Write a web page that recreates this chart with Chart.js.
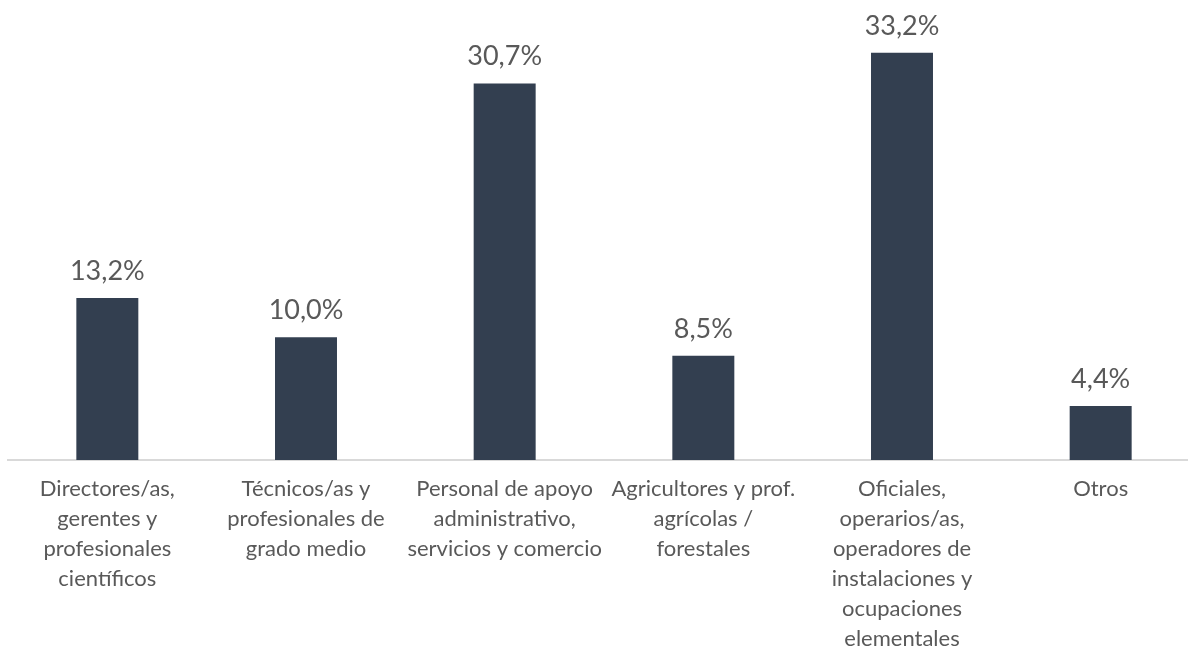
<!DOCTYPE html>
<html>
<head>
<meta charset="utf-8">
<script src="https://cdn.jsdelivr.net/npm/chart.js@4"></script>
<style>
  html, body { margin: 0; padding: 0; background: #fff; overflow: hidden; }
  #wrap { position: absolute; left: 0; top: 0; width: 1200px; height: 646px; }
</style>
</head>
<body>
<div id="wrap"><canvas id="ocupaciones-chart" width="1200" height="646"></canvas></div>
<script>
// ocupaciones, % sobre el total
const categories = [
    ['Directores/as,', 'gerentes y', 'profesionales', 'científicos'],
    ['Técnicos/as y', 'profesionales de', 'grado medio'],
    ['Personal de apoyo', 'administrativo,', 'servicios y comercio'],
    ['Agricultores y prof.', 'agrícolas /', 'forestales'],
    ['Oficiales,', 'operarios/as,', 'operadores de', 'instalaciones y', 'ocupaciones', 'elementales'],
    ['Otros']
]
const values = [13.2, 10.0, 30.7, 8.5, 33.2, 4.4]

const barColor = '#333F50'
const textColor = '#595959'
const fontFamily = 'Lato, "Open Sans", sans-serif'

function formatPct(v) {
    return v.toFixed(1).replace('.', ',') + '%'
}

// value labels above each bar
const valueLabels = {
    id: 'valueLabels',
    afterDatasetsDraw(chart) {
        const ctx = chart.ctx
        const meta = chart.getDatasetMeta(0)
        ctx.save()
        ctx.font = '27px ' + fontFamily
        ctx.fillStyle = textColor
        ctx.textAlign = 'center'
        ctx.textBaseline = 'alphabetic'
        meta.data.forEach((bar, i) => {
            ctx.fillText(formatPct(values[i]), bar.x, bar.y - 18)
        })
        ctx.restore()
    }
}

const ctx = document.getElementById('ocupaciones-chart')

const data = {
    labels: categories,
    datasets: [{
        data: values,
        backgroundColor: barColor,
        borderWidth: 0,
        barPercentage: 0.312,
        categoryPercentage: 1
    }]
}

const config = {
    type: 'bar',
    data: data,
    options: {
        responsive: false,
        animation: false,
        layout: {
            padding: { left: 8, right: 0, top: 0, bottom: 0 }
        },
        plugins: {
            legend: { display: false },
            tooltip: { enabled: false }
        },
        scales: {
            x: {
                grid: { display: false, drawTicks: false },
                border: { display: true, color: '#D9D9D9', width: 2 },
                ticks: {
                    autoSkip: false,
                    maxRotation: 0,
                    minRotation: 0,
                    padding: 14,
                    color: textColor,
                    font: { family: fontFamily, size: 22, lineHeight: '30px' }
                },
                afterFit(scale) {
                    scale.height = 186
                }
            },
            y: {
                display: false,
                min: 0,
                max: 37.5
            }
        }
    },
    plugins: [valueLabels]
}

new Chart(ctx, config)
</script>
</body>
</html>
